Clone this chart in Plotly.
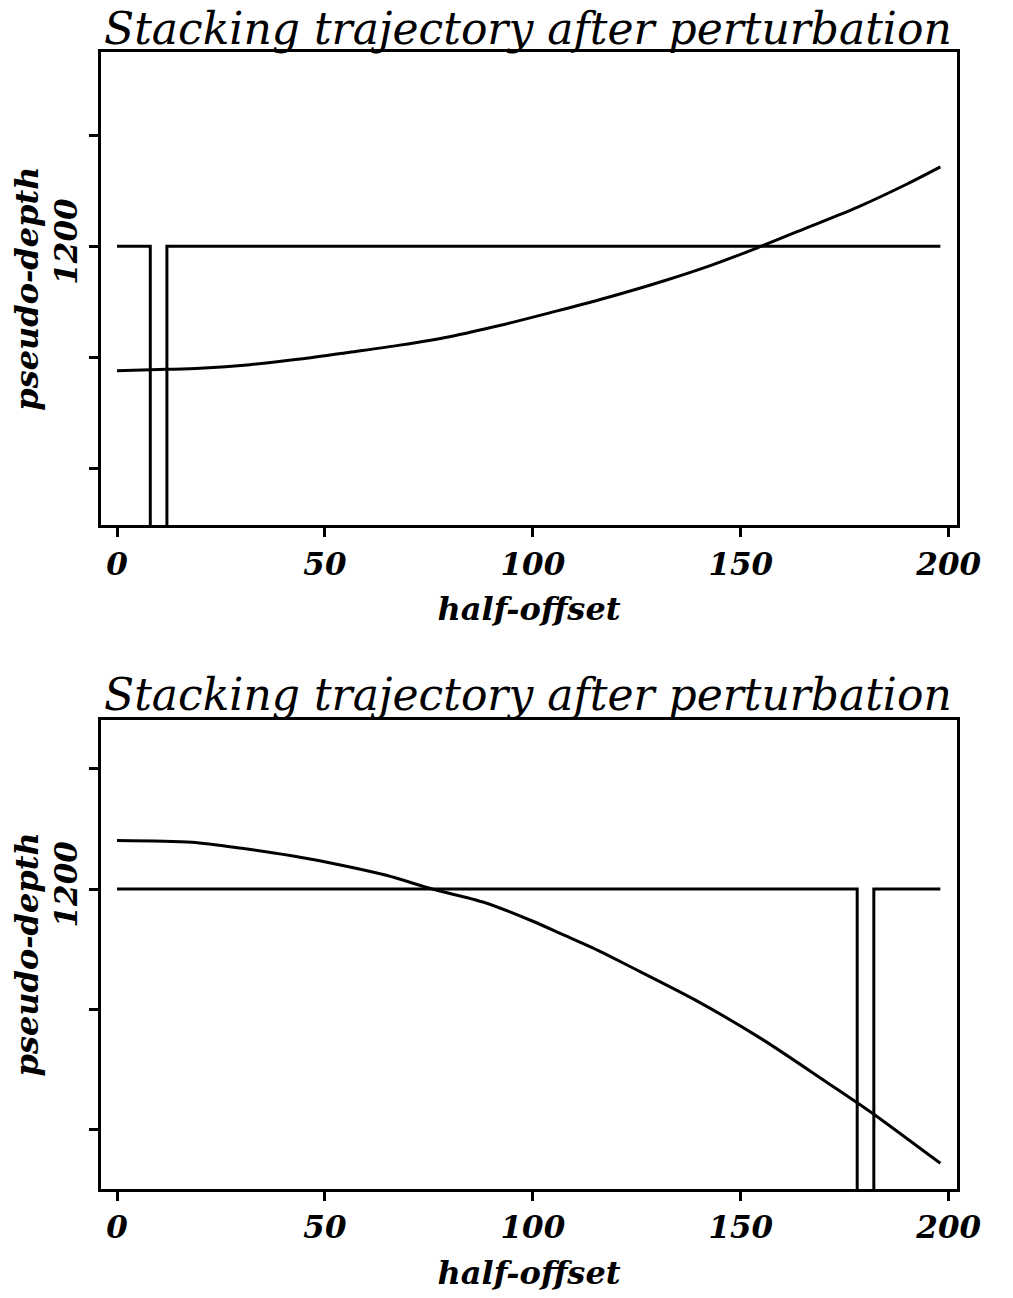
import plotly.graph_objects as go
from plotly.subplots import make_subplots

# ---- data ----
# Panel 1 (top): moveout trajectory curve
top_x = [0, 12, 20, 32, 44, 56, 68, 80, 92, 104, 116, 132, 143, 154, 166, 178, 190, 198]
top_curve = [1256.0, 1255.4, 1254.9, 1253.3, 1250.8, 1247.7, 1244.5, 1240.7, 1235.7,
             1230.0, 1224.1, 1215.3, 1208.5, 1200.7, 1191.6, 1182.5, 1172.0, 1164.3]
# Panel 1 reflector (flat at 1200 with a notch between x=8 and x=12)
top_ref_x = [0, 8, 8, None, 12, 12, 198]
top_ref_depth = [1200, 1200, 1400, None, 1400, 1200, 1200]  # 1400 -> runs off the bottom

# Panel 2 (bottom)
bot_x = [0, 18, 30, 42, 54, 65, 76, 88, 100, 107, 116, 123, 139, 155, 171, 178, 182, 198]
bot_curve = [1179.8, 1180.6, 1183.1, 1186.2, 1190.1, 1194.4, 1200.1, 1205.4, 1213.4,
             1218.8, 1225.8, 1231.9, 1246.1, 1262.3, 1280.7, 1288.8, 1293.6, 1314.0]
bot_ref_x = [0, 178, 178, None, 182, 182, 198]
bot_ref_depth = [1200, 1200, 1400, None, 1400, 1200, 1200]

x_ticks = [0, 50, 100, 150, 200]
y_ticks = [1150, 1200, 1250, 1300]
y_ticktext = ["", "1200", "", ""]

title_text = "Stacking trajectory after perturbation"
x_title = "half-offset"
y_title = "pseudo-depth"

x_range = [-3.85, 202.0]
top_y_range = [1325.6, 1112.6]   # depth increases downward
bot_y_range = [1324.7, 1129.6]

W, H = 1013, 1298
fig = make_subplots(rows=2, cols=1, vertical_spacing=0.0)

line_style = dict(color="black", width=3)
curve_style = dict(color="black", width=3, shape="spline", smoothing=0.8)
fig.add_trace(go.Scatter(x=top_x, y=top_curve, mode="lines", line=curve_style), row=1, col=1)
fig.add_trace(go.Scatter(x=top_ref_x, y=top_ref_depth, mode="lines", line=line_style,
                         connectgaps=False), row=1, col=1)
fig.add_trace(go.Scatter(x=bot_x, y=bot_curve, mode="lines", line=curve_style), row=2, col=1)
fig.add_trace(go.Scatter(x=bot_ref_x, y=bot_ref_depth, mode="lines", line=line_style,
                         connectgaps=False), row=2, col=1)

t_m, b_m = 52, 105
plot_h = H - t_m - b_m
def py2paper(py):
    return (H - b_m - py) / plot_h

tick_font = dict(family="DejaVu Serif", size=31, color="black", weight="bold", style="italic")
axt_font = dict(family="DejaVu Serif", size=32, color="black", weight="bold", style="italic")

axis_common = dict(showline=True, mirror=True, linecolor="black", linewidth=3,
                   ticks="outside", tickcolor="black", tickwidth=2.5, ticklen=9,
                   showgrid=False, zeroline=False)

fig.update_layout(
    width=W, height=H,
    margin=dict(l=101, r=56, t=t_m, b=b_m),
    paper_bgcolor="white", plot_bgcolor="white",
    showlegend=False,
    xaxis=dict(domain=[0, 1], range=x_range, tickvals=x_ticks, tickfont=tick_font,
               title=dict(text=x_title, font=axt_font, standoff=18), **axis_common),
    xaxis2=dict(domain=[0, 1], range=x_range, tickvals=x_ticks, tickfont=tick_font,
                title=dict(text=x_title, font=axt_font, standoff=18), **axis_common),
    yaxis=dict(domain=[py2paper(527), py2paper(52)], range=top_y_range, tickvals=y_ticks,
               ticktext=y_ticktext, tickangle=-90, tickfont=tick_font,
               title=dict(text=y_title, font=axt_font, standoff=0), **axis_common),
    yaxis2=dict(domain=[py2paper(1193), py2paper(722)], range=bot_y_range, tickvals=y_ticks,
                ticktext=y_ticktext, tickangle=-90, tickfont=tick_font,
                title=dict(text=y_title, font=axt_font, standoff=0), **axis_common),
)

title_font = dict(family="DejaVu Serif", size=44, color="black", style="italic")
for py in (56, 724):
    fig.add_annotation(text=title_text, xref="paper", yref="paper",
                       x=(528 - 101) / (W - 101 - 56), y=py2paper(py),
                       xanchor="center", yanchor="bottom", showarrow=False, font=title_font)

fig.write_html("out.html")
